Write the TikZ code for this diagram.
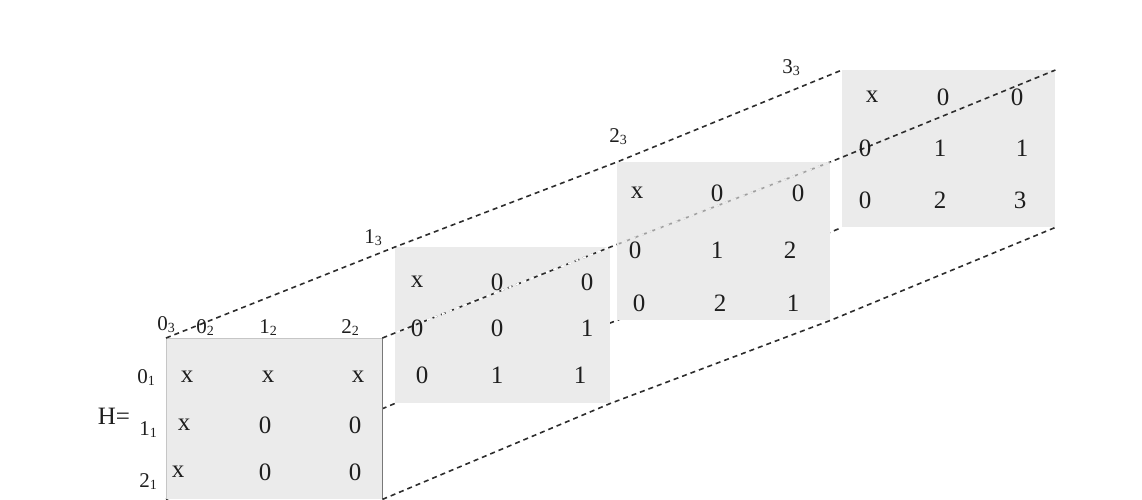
\documentclass[tikz,border=0pt]{standalone}
\usepackage{fontspec}
\setmainfont{Liberation Serif}
\usetikzlibrary{backgrounds}
\definecolor{boxgray}{RGB}{235,235,235}
\definecolor{edgegray}{RGB}{120,120,120}
\definecolor{dashcol}{RGB}{45,45,45}
\definecolor{txt}{RGB}{30,30,30}
\newcommand\sbs[1]{\raisebox{-0.3ex}{\fontsize{14}{14}\selectfont #1}}
\begin{document}
\begin{tikzpicture}[x=1pt,y=-1pt,
  mbox/.style={fill=boxgray, draw=none, inner sep=0, anchor=north west},
  ent/.style={font=\fontsize{25}{25}\selectfont, inner sep=0, text=txt},
  lab/.style={font=\fontsize{21}{21}\selectfont, inner sep=0, anchor=base, text=txt},
  dk/.style={draw=dashcol, line width=1.6pt, dash pattern=on 5pt off 4pt},
  wh/.style={draw=white, line width=1.8pt, dash pattern=on 3pt off 5pt},
  gr/.style={draw=black!38, line width=1.4pt, dash pattern=on 3pt off 6pt}]
\useasboundingbox (0,0) rectangle (1142,499);

% boxes
\node[mbox, minimum width=216pt, minimum height=161pt] (f) at (166,338) {};
\node[mbox, minimum width=215pt, minimum height=156pt] (b1) at (395,247) {};
\node[mbox, minimum width=213pt, minimum height=158pt] (b2) at (617,162) {};
\node[mbox, minimum width=213pt, minimum height=157pt] (b3) at (842,70) {};

% front box border
\draw[gray!45, line width=0.8pt] (f.south west) -- (f.north west) -- (f.north east);
\draw[edgegray, line width=1.8pt] (f.north east) -- (f.south east);

% hidden line of bottom-left corners
\begin{scope}[on background layer]
\draw[dk] (f.south west) -- (b1.south west) -- (b2.south west) -- (b3.south west);
\end{scope}

% line of top-left corners
\draw[dk] (f.north west) -- (b1.north west) -- (b2.north west) -- (b3.north west);
% line of bottom-right corners
\draw[dk] (f.south east) -- (b1.south east) -- (b2.south east) -- (b3.south east);
% line of top-right corners
\draw[dk] (f.north east) -- (b1.north east) -- (b2.north east) -- (b3.north east);
\begin{scope}
\clip (b1.north west) rectangle (b1.south east);
\draw[wh] (f.north east) -- (b1.north east);
\end{scope}
\begin{scope}
\clip (b2.north west) rectangle (b2.south east);
\draw[draw=boxgray, line width=2.2pt] (b1.north east) -- (b2.north east);
\draw[gr] (b1.north east) -- (b2.north east);
\end{scope}

% labels
\node[font=\fontsize{25}{25}\selectfont, inner sep=0, text=txt] (H) at (114,416) {H=};
\node[lab] (r0) at (146,383) {0\sbs{1}};
\node[lab] (r1) at (148,435) {1\sbs{1}};
\node[lab] (r2) at (148,487) {2\sbs{1}};
\node[lab] (d0) at (166,330) {0\sbs{3}};
\node[lab] (c0) at (205,333) {0\sbs{2}};
\node[lab] (c1) at (268,333) {1\sbs{2}};
\node[lab] (c2) at (350,333) {2\sbs{2}};
\node[lab] (d1) at (373,243) {1\sbs{3}};
\node[lab] (d2) at (618,142) {2\sbs{3}};
\node[lab] (d3) at (791,73) {3\sbs{3}};

% front entries
\node[ent] (f11) at (187,377) {x};
\node[ent] (f12) at (268,377) {x};
\node[ent] (f13) at (358,377) {x};
\node[ent] (f21) at (184,425) {x};
\node[ent] (f22) at (265,425) {0};
\node[ent] (f23) at (355,425) {0};
\node[ent] (f31) at (178,472) {x};
\node[ent] (f32) at (265,472) {0};
\node[ent] (f33) at (355,472) {0};

% box 1 entries
\node[ent] (a11) at (417,282) {x};
\node[ent] (a12) at (497,282) {0};
\node[ent] (a13) at (587,282) {0};
\node[ent] (a21) at (417,328) {0};
\node[ent] (a22) at (497,328) {0};
\node[ent] (a23) at (587,328) {1};
\node[ent] (a31) at (422,375) {0};
\node[ent] (a32) at (497,375) {1};
\node[ent] (a33) at (580,375) {1};

% box 2 entries
\node[ent] (c11) at (637,193) {x};
\node[ent] (c12) at (717,193) {0};
\node[ent] (c13) at (798,193) {0};
\node[ent] (c21) at (635,250) {0};
\node[ent] (c22) at (717,250) {1};
\node[ent] (c23) at (790,250) {2};
\node[ent] (c31) at (639,303) {0};
\node[ent] (c32) at (720,303) {2};
\node[ent] (c33) at (793,303) {1};

% box 3 entries
\node[ent] (e11) at (872,97) {x};
\node[ent] (e12) at (943,97) {0};
\node[ent] (e13) at (1017,97) {0};
\node[ent] (e21) at (865,148) {0};
\node[ent] (e22) at (940,148) {1};
\node[ent] (e23) at (1022,148) {1};
\node[ent] (e31) at (865,200) {0};
\node[ent] (e32) at (940,200) {2};
\node[ent] (e33) at (1020,200) {3};
\end{tikzpicture}
\end{document}
